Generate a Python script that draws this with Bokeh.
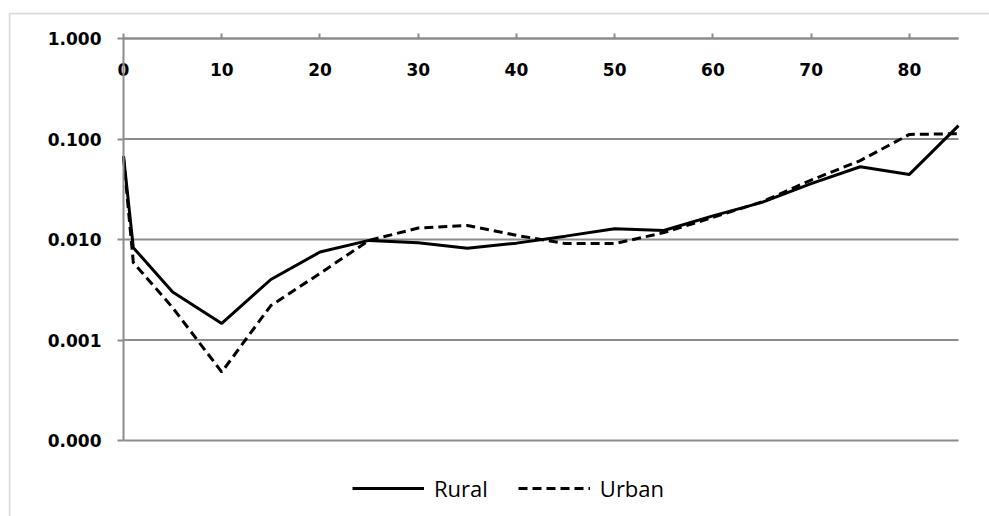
from bokeh.plotting import figure
from bokeh.models import (Range1d, FixedTicker, LinearAxis, LogAxis,
                          CustomJSTickFormatter, Legend, LegendItem, BoxAnnotation)
from bokeh.embed import file_html
from bokeh.resources import INLINE

# Age (years)
ages = [0, 1, 5, 10, 15, 20, 25, 30, 35, 40, 45, 50, 55, 60, 65, 70, 75, 80, 85]

# Rates per age group
rural = [0.068, 0.0083, 0.0030, 0.00146, 0.0040, 0.0075, 0.0098, 0.0093, 0.0082,
         0.0092, 0.0108, 0.0128, 0.0123, 0.0172, 0.0234, 0.036, 0.053, 0.0444, 0.136]
urban = [0.066, 0.0059, 0.0021, 0.00048, 0.0022, 0.0046, 0.0098, 0.0130, 0.0138,
         0.0110, 0.0091, 0.0091, 0.0117, 0.0166, 0.0237, 0.039, 0.061, 0.111, 0.113]

x_ticks = [0, 10, 20, 30, 40, 50, 60, 70, 80]
x_labels = ["0", "10", "20", "30", "40", "50", "60", "70", "80"]
y_ticks = [0.0001, 0.001, 0.01, 0.1, 1.0]
y_labels = ["0.000", "0.001", "0.010", "0.100", "1.000"]

X_MIN, X_MAX = 0, 85
Y_MIN, Y_MAX = 0.0001, 1.0

W, H = 989, 516
GRID = "#8c8c8c"
TICK_FONT = "DejaVu Sans"

# The canvas-wide frame holds the chart box; the plotted region sits inside it
# at these pixel edges, and the ranges are widened to place it there.
FRAME_L, FRAME_T = 8, 12
AREA_L, AREA_R, AREA_T, AREA_B = 123, 958, 38, 440
px_per_x = (AREA_R - AREA_L) / (X_MAX - X_MIN)
px_per_decade = (AREA_B - AREA_T) / 4.0
x_range = Range1d(X_MIN - (AREA_L - FRAME_L) / px_per_x,
                  X_MAX + (W - AREA_R) / px_per_x)
y_range = Range1d(Y_MIN * 10 ** (-(H - AREA_B) / px_per_decade),
                  Y_MAX * 10 ** ((AREA_T - FRAME_T) / px_per_decade))

p = figure(width=W, height=H, output_backend="svg", toolbar_location=None,
           x_range=x_range, y_range=y_range, y_axis_type="log",
           x_axis_location=None, y_axis_location=None,
           min_border_left=FRAME_L, min_border_top=FRAME_T,
           min_border_right=0, min_border_bottom=0)
p.outline_line_color = None
p.background_fill_color = "white"
p.border_fill_color = "white"
for g in p.grid:
    g.visible = False

# horizontal gridlines at each decade, across the plotted region only
p.segment(x0=[X_MIN] * len(y_ticks), x1=[X_MAX] * len(y_ticks),
          y0=y_ticks, y1=y_ticks, line_color=GRID, line_width=2)

# y axis: log decades with three-decimal labels
yax = LogAxis(fixed_location=X_MIN, bounds=(Y_MIN, Y_MAX),
              ticker=FixedTicker(ticks=y_ticks),
              formatter=CustomJSTickFormatter(args=dict(yt=y_ticks, yl=y_labels), code="""
    let best = 0;
    for (let i = 0; i < yt.length; i++) {
        if (Math.abs(Math.log10(yt[i]) - Math.log10(tick)) <
            Math.abs(Math.log10(yt[best]) - Math.log10(tick))) best = i;
    }
    return yl[best];
"""))
yax.axis_line_color = GRID
yax.axis_line_width = 2
yax.major_tick_line_color = GRID
yax.major_tick_line_width = 2
yax.major_tick_out = 6
yax.major_tick_in = 0
yax.minor_tick_line_color = None
yax.major_label_text_font = TICK_FONT
yax.major_label_text_font_style = "bold"
yax.major_label_text_font_size = "17px"
yax.major_label_text_color = "black"
yax.major_label_standoff = 16
p.add_layout(yax, "left")

# x axis runs along the top line; ticks point up, labels hang below it
xax = LinearAxis(fixed_location=Y_MAX, bounds=(X_MIN, X_MAX),
                 ticker=FixedTicker(ticks=x_ticks),
                 major_label_overrides={t: s for t, s in zip(x_ticks, x_labels)})
xax.axis_line_color = GRID
xax.axis_line_width = 2
xax.major_tick_line_color = GRID
xax.major_tick_line_width = 2
xax.major_tick_out = 0
xax.major_tick_in = 5
xax.minor_tick_line_color = None
xax.major_label_text_font = TICK_FONT
xax.major_label_text_font_style = "bold"
xax.major_label_text_font_size = "17px"
xax.major_label_text_color = "black"
xax.major_label_standoff = 24
p.add_layout(xax, "below")

r_rural = p.line(ages, rural, line_color="black", line_width=3)
r_urban = p.line(ages, urban, line_color="black", line_width=3, line_dash="9 5")

legend = Legend(items=[LegendItem(label="Rural", renderers=[r_rural]),
                       LegendItem(label="Urban", renderers=[r_urban])],
                orientation="horizontal", location=(352 - FRAME_L, 13),
                glyph_width=72, glyph_height=20, label_standoff=10, spacing=30,
                label_text_font="Open Sans", label_text_font_size="22px",
                label_text_color="black", border_line_color=None,
                background_fill_alpha=0, padding=0, margin=0)
p.add_layout(legend)

# chart box: left and top edges (right and bottom fall past the canvas)
p.add_layout(BoxAnnotation(left=9, right=W + 20, top=13, bottom=H + 20,
                           left_units="canvas", right_units="canvas",
                           top_units="canvas", bottom_units="canvas",
                           fill_alpha=0, line_color=GRID, line_width=2))

open("out.html", "w").write(file_html(p, INLINE))
